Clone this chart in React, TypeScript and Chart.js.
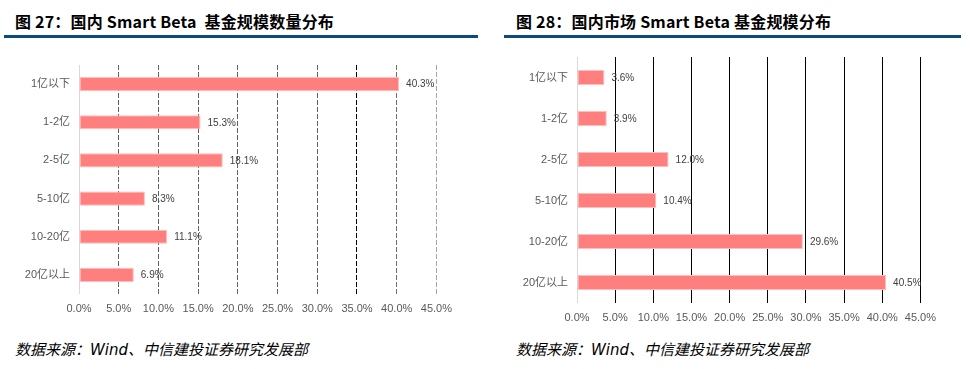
import React, { useEffect, useRef } from "react";
import { Chart, registerables } from "chart.js";

Chart.register(...registerables);

const leftCategories = ["1亿以下", "1-2亿", "2-5亿", "5-10亿", "10-20亿", "20亿以上"];
const leftValues = [40.3, 15.3, 18.1, 8.3, 11.1, 6.9];
const rightCategories = ["1亿以下", "1-2亿", "2-5亿", "5-10亿", "10-20亿", "20亿以上"];
const rightValues = [3.6, 3.9, 12.0, 10.4, 29.6, 40.5];
const axisMin = 0;
const axisMax = 45;
const axisStep = 5;

const leftTitle = "图 27：国内 Smart Beta  基金规模数量分布";
const rightTitle = "图 28：国内市场 Smart Beta 基金规模分布";
const sourceText = "数据来源：Wind、中信建投证券研究发展部";

const FONT = "'Liberation Sans', 'Noto Sans CJK SC', sans-serif";

const valueLabels = {
  id: "valueLabels",
  afterDatasetsDraw(chart: any) {
    const ctx = chart.ctx;
    const meta = chart.getDatasetMeta(0);
    const data = chart.data.datasets[0].data;
    ctx.save();
    ctx.font = `10px ${FONT}`;
    ctx.fillStyle = "#404040";
    ctx.textBaseline = "middle";
    ctx.textAlign = "left";
    meta.data.forEach((bar: any, i: number) => {
      ctx.fillText(Number(data[i]).toFixed(1) + "%", bar.x + 7, bar.y + 0.5);
    });
    ctx.restore();
  },
};

function makeConfig(
  categories: string[],
  values: number[],
  yWidth: number,
  padRight: number,
  padTop: number,
  dashed: boolean
): any {
  const leftGridColor = (v: number) => {
    if (v === 0) return "#d9d9d9";
    if (v === 35) return "#000000";
    if (v === 45) return "#a6a6a6";
    if (v === 40) return "#6f6f6f";
    return "#606060";
  };
  return {
    type: "bar",
    data: {
      labels: categories,
      datasets: [
        {
          data: values,
          backgroundColor: "#ff7f7f",
          borderColor: "#ffbdbd",
          borderWidth: 1,
          borderSkipped: false,
          barPercentage: 0.37,
          categoryPercentage: 1,
        },
      ],
    },
    options: {
      indexAxis: "y",
      responsive: false,
      animation: false,
      devicePixelRatio: 1,
      layout: { padding: { top: padTop, right: padRight, left: 0, bottom: 0 } },
      plugins: { legend: { display: false }, tooltip: { enabled: false } },
      scales: {
        y: {
          type: "category",
          grid: { display: false, drawTicks: false },
          border: { display: false },
          ticks: { font: { size: 11, family: FONT }, color: "#595959", padding: 9 },
          afterFit(scale: any) {
            scale.width = yWidth;
            scale.paddingTop = 0;
            scale.paddingBottom = 0;
          },
        },
        x: {
          type: "linear",
          min: axisMin,
          max: axisMax,
          grid: {
            drawTicks: false,
            lineWidth: 1,
            color: (c: any) => {
              const v = c.tick ? c.tick.value : 0;
              if (dashed) return leftGridColor(v);
              return v === 0 ? "#d9d9d9" : "#000000";
            },
          },
          border: {
            display: false,
            dash: (c: any) => {
              const v = c.tick ? c.tick.value : 0;
              return dashed && v !== 0 ? [5, 2] : [];
            },
          },
          ticks: {
            stepSize: axisStep,
            font: { size: 11, family: FONT },
            color: "#595959",
            padding: 8,
            maxRotation: 0,
            autoSkip: false,
            callback: (v: any) => Number(v).toFixed(1) + "%",
          },
          afterFit(scale: any) {
            scale.height = 30;
          },
        },
      },
    },
    plugins: [valueLabels],
  };
}

function BarChart(props: {
  categories: string[];
  values: number[];
  left: number;
  top: number;
  width: number;
  height: number;
  yWidth: number;
  padRight: number;
  padTop: number;
  dashed: boolean;
}) {
  const ref = useRef<HTMLCanvasElement>(null);
  useEffect(() => {
    if (!ref.current) return;
    const chart = new Chart(
      ref.current,
      makeConfig(props.categories, props.values, props.yWidth, props.padRight, props.padTop, props.dashed)
    );
    return () => chart.destroy();
  }, []);
  return (
    <canvas
      ref={ref}
      width={props.width}
      height={props.height}
      style={{
        position: "absolute",
        left: props.left,
        top: props.top,
        width: props.width,
        height: props.height,
      }}
    />
  );
}

const titleStyle: React.CSSProperties = {
  position: "absolute",
  top: 11,
  fontFamily: "'Noto Sans CJK SC', sans-serif",
  fontWeight: 700,
  fontSize: 16,
  lineHeight: "20px",
  color: "#000",
  whiteSpace: "pre",
  letterSpacing: 0.2,
};

const sourceStyle: React.CSSProperties = {
  position: "absolute",
  top: 340,
  fontFamily: "'DejaVu Sans', 'Noto Sans CJK SC', sans-serif",
  fontStyle: "italic",
  fontSize: 15,
  lineHeight: "20px",
  color: "#000",
  whiteSpace: "pre",
};

const ruleStyle: React.CSSProperties = {
  position: "absolute",
  top: 35,
  height: 3,
  background: "#0b4a7c",
};

export default function App() {
  return (
    <div
      style={{
        position: "absolute",
        left: 0,
        top: 0,
        width: 973,
        height: 369,
        background: "#fff",
        overflow: "hidden",
      }}
    >
      <div style={{ ...titleStyle, left: 15 }}>{leftTitle}</div>
      <div style={{ ...ruleStyle, left: 4, width: 474 }} />
      <div style={{ ...titleStyle, left: 516 }}>{rightTitle}</div>
      <div style={{ ...ruleStyle, left: 504, width: 457 }} />

      <BarChart
        categories={leftCategories}
        values={leftValues}
        left={0}
        top={55}
        width={460}
        height={269}
        yWidth={79}
        padRight={23}
        padTop={10}
        dashed={true}
      />
      <BarChart
        categories={rightCategories}
        values={rightValues}
        left={490}
        top={47}
        width={454}
        height={286}
        yWidth={87}
        padRight={23}
        padTop={10}
        dashed={false}
      />

      <div style={{ ...sourceStyle, left: 15 }}>{sourceText}</div>
      <div style={{ ...sourceStyle, left: 516 }}>{sourceText}</div>
    </div>
  );
}
